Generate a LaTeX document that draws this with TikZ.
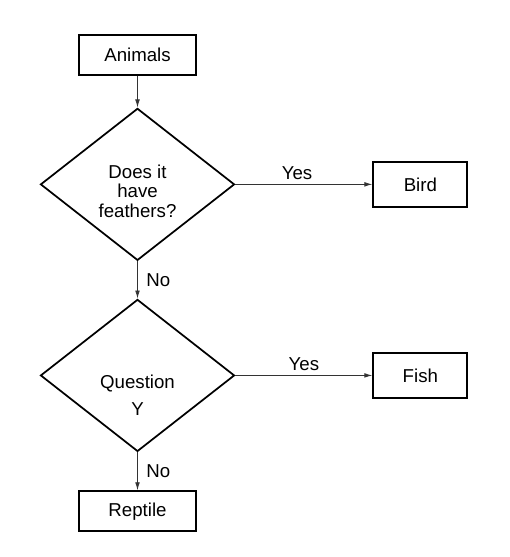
\documentclass[tikz,border=0pt]{standalone}
\usepackage{fontspec}
\setmainfont{Liberation Sans}
\usetikzlibrary{arrows.meta}
\usetikzlibrary{positioning}
\usetikzlibrary{shapes.geometric}

\begin{document}
\begin{tikzpicture}
    [
font=\fontsize{14}{14.6}\selectfont,
boxnodes/.style={rectangle, draw=black, line width=1.5pt, minimum width=87.75pt, minimum height=30pt},smallboxnodes/.style={boxnodes, minimum width=70.5pt, minimum height=33.75pt},
asknodes/.style={diamond, draw=black, line width=1.3pt, minimum width=145.5pt, minimum height=114pt, inner sep=0pt},asktext/.style={align=center},
arrowline/.style={-{Latex[length=6pt,width=3.5pt]}, line width=0.6pt, draw=black!80}
]
\useasboundingbox (-103.125pt,40.875pt) rectangle (279.375pt,-376.875pt);
\node[boxnodes](animals){Animals};
\node[asknodes](feathers)[below=24pt of animals,label={[asktext,yshift=-5pt]center:Does it\\have\\feathers?}]{};
\node[smallboxnodes](bird)[right=102.75pt of feathers]{Bird};
\node[asknodes](question)[below=28pt of feathers,label={[asktext,yshift=-15pt]center:Question\\[5.4pt]Y}]{};
\node[smallboxnodes](fish)[right=102.75pt of question]{Fish};
\node[boxnodes](reptile)[below=28.5pt of question]{Reptile};

\draw[arrowline] (animals) to (feathers);
\draw[arrowline] (feathers) to node [above,pos=0.45] {Yes} (bird);
\draw[arrowline] (feathers) to node [right,xshift=3pt] {No} (question);
\draw[arrowline] (question) to node [above] {Yes} (fish);
\draw[arrowline] (question) to node [right,xshift=3pt] {No} (reptile);
\end{tikzpicture}
\end{document}
